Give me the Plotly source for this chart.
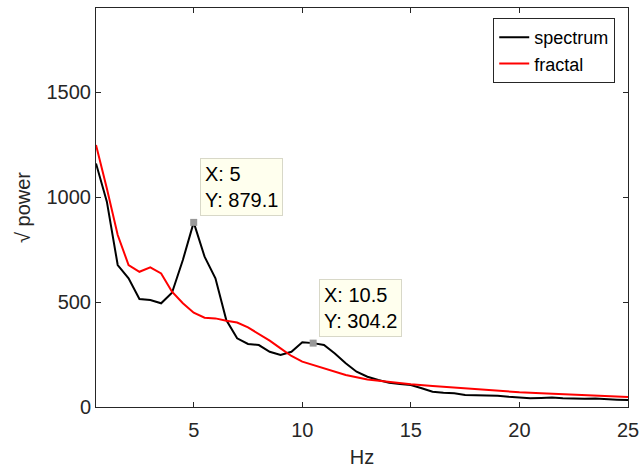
import plotly.graph_objects as go

hz_spec = [0.5, 1, 1.5, 2, 2.5, 3, 3.5, 4, 4.5, 5, 5.5, 6, 6.5, 7, 7.5, 8, 8.5, 9, 9.5, 10,
           10.5, 11, 11.5, 12, 12.5, 13, 13.5, 14, 14.5, 15, 15.5, 16, 16.5, 17, 17.5, 18,
           18.5, 19, 19.5, 20, 20.5, 21, 21.5, 22, 22.5, 23, 23.5, 24, 24.5, 25]
spectrum = [1160, 978, 676, 613, 514, 509, 494, 544, 700, 879.1, 716, 613, 414, 327, 300, 295,
            263, 248, 263, 308, 304.2, 295, 255, 208, 168, 144, 129, 116, 110, 105, 89, 73,
            68, 65, 57, 56, 54, 54, 49, 44, 42, 43, 45, 42, 39, 39, 40, 36, 35, 33]

hz_frac = [0.5, 1, 1.5, 2, 2.5, 3, 3.5, 4, 4.5, 5, 5.5, 6, 6.5, 7, 7.5, 8, 8.5, 9, 9.5, 10,
           11, 12, 13, 14, 15, 16, 17, 18, 19, 20, 21, 22, 23, 24, 25]
fractal = [1248, 1041, 819, 676, 644, 665, 636, 549, 494, 449, 425, 422, 411, 402, 379, 348,
           316, 279, 243, 216, 185, 152, 131, 119, 108, 100, 92, 84, 78, 70, 65, 60, 56, 51, 48]

tip_x = [5, 10.5]
tip_y = [879.1, 304.2]
tip_text = ["X: 5<br>Y: 879.1", "X: 10.5<br>Y: 304.2"]

FONT = "Liberation Sans, Arial, Helvetica, sans-serif"
AX = "#262626"

fig = go.Figure()
fig.add_trace(go.Scatter(x=hz_spec, y=spectrum, mode="lines", name="spectrum",
                         line=dict(color="black", width=2)))
fig.add_trace(go.Scatter(x=hz_frac, y=fractal, mode="lines", name="fractal",
                         line=dict(color="red", width=2)))
fig.add_trace(go.Scatter(x=tip_x, y=tip_y, mode="markers", showlegend=False,
                         marker=dict(symbol="square", size=7, color="#999999")))

for x, y, t in zip(tip_x, tip_y, tip_text):
    fig.add_annotation(x=x, y=y, text=t, showarrow=False, xanchor="left", yanchor="bottom",
                       xshift=6, yshift=6, align="left", bgcolor="#FFFFEE",
                       bordercolor="#D8D8C8", borderwidth=1, borderpad=4,
                       font=dict(family=FONT, size=20, color="black"))

fig.update_layout(
    width=641, height=468,
    margin=dict(l=96, r=13, t=8, b=61),
    paper_bgcolor="white", plot_bgcolor="white",
    font=dict(family=FONT, size=20, color=AX),
    legend=dict(x=0.976, y=0.975, xanchor="right", yanchor="top",
                bgcolor="white", bordercolor=AX, borderwidth=1,
                font=dict(family=FONT, size=18, color="black"),
                tracegroupgap=0, itemwidth=30),
    xaxis=dict(range=[0.5, 25], tickvals=[5, 10, 15, 20, 25], ticks="inside", ticklen=5,
               tickcolor=AX, showline=True, linecolor=AX, linewidth=1, mirror="ticks",
               showgrid=False, zeroline=False, automargin=False, ticklabelstandoff=5,
               title=dict(text="Hz", font=dict(size=20, color=AX), standoff=10)),
    yaxis=dict(range=[0, 1900], tickvals=[0, 500, 1000, 1500], ticks="inside", ticklen=5,
               tickcolor=AX, showline=True, linecolor=AX, linewidth=1, mirror="ticks",
               showgrid=False, zeroline=False, automargin=False,
               title=dict(text="√ power", font=dict(size=20, color=AX), standoff=10)),
)

fig.write_html("out.html")
